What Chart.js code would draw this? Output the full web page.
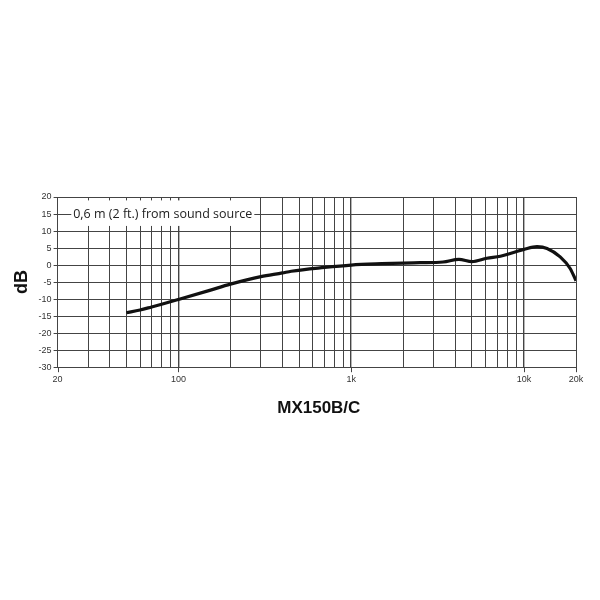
<!DOCTYPE html>
<html>
<head>
<meta charset="utf-8">
<script src="https://cdn.jsdelivr.net/npm/chart.js@4"></script>
<style>
  body { margin: 0; background: #fff; }
</style>
</head>
<body>
<canvas id="grafico" width="600" height="600"></canvas>
<script>
// frequency response
const frecuencias = [50, 60, 70, 80, 100, 150, 200, 300, 400, 450, 700, 1000, 1500, 2000, 2500, 3400, 4200, 5000, 6100, 7300, 8700, 10000, 11900, 13600, 16200, 18500, 20000];
const niveles = [-14, -13.2, -12.3, -11.5, -10.1, -7.5, -5.6, -3.4, -2.3, -1.8, -0.7, 0, 0.4, 0.6, 0.7, 0.9, 1.7, 1.0, 2.0, 2.6, 3.7, 4.6, 5.4, 4.9, 2.4, -1.0, -4.6];
const lineasX = [20, 30, 40, 50, 60, 70, 80, 90, 100, 200, 300, 400, 500, 600, 700, 800, 900,
  1000, 2000, 3000, 4000, 5000, 6000, 7000, 8000, 9000, 10000, 20000];
const etiquetasX = { 20: '20', 100: '100', 1000: '1k', 10000: '10k', 20000: '20k' };
const nota = '0,6 m (2 ft.) from sound source';
const titulo = 'MX150B/C';

const extras = {
  id: 'extras',
  afterDraw(chart) {
    const c = chart.ctx;
    const x = chart.scales.x, y = chart.scales.y;
    const a = chart.chartArea;
    c.save();
    // small ticks under the labelled frequencies
    c.strokeStyle = '#444';
    c.lineWidth = 1;
    Object.keys(etiquetasX).forEach(f => {
      const px = Math.round(x.getPixelForValue(+f)) + 0.5;
      c.beginPath();
      c.moveTo(px, a.bottom);
      c.lineTo(px, a.bottom + 5);
      c.stroke();
    });
    // note box
    const bx = x.getPixelForValue(24), by = y.getPixelForValue(19);
    const bw = x.getPixelForValue(275) - bx, bh = y.getPixelForValue(11.5) - by;
    c.fillStyle = '#fff';
    c.fillRect(bx, by, bw, bh);
    c.fillStyle = '#222';
    c.font = '12.5px "Open Sans", sans-serif';
    c.textAlign = 'center';
    c.textBaseline = 'middle';
    c.fillText(nota, bx + bw / 2, y.getPixelForValue(15));
    // title under the chart
    c.font = 'bold 17px "Liberation Sans", Arial, sans-serif';
    c.fillStyle = '#111';
    c.fillText(titulo, (a.left + a.right) / 2 + 2, 408);
    c.restore();
  }
};

const ctx = document.getElementById('grafico').getContext('2d');
new Chart(ctx, {
  type: 'line',
  data: {
    datasets: [{
      data: frecuencias.map((f, i) => ({ x: f, y: niveles[i] })),
      borderColor: '#111',
      borderWidth: 3.2,
      pointRadius: 0,
      cubicInterpolationMode: 'monotone',
      fill: false
    }]
  },
  options: {
    responsive: false,
    animation: false,
    layout: { padding: { left: 7, right: 24, top: 197, bottom: 208 } },
    plugins: { legend: { display: false }, tooltip: { enabled: false } },
    scales: {
      x: {
        type: 'logarithmic',
        min: 20,
        max: 20000,
        afterBuildTicks(scale) { scale.ticks = lineasX.map(v => ({ value: v })); },
        border: { color: '#444', width: 1 },
        grid: {
          drawTicks: false,
          color: '#444',
          lineWidth: c => (c.tick && [100, 1000, 10000].includes(c.tick.value)) ? 1.4 : 1
        },
        ticks: {
          autoSkip: false,
          maxRotation: 0,
          padding: 7,
          color: '#333',
          font: { size: 9, family: 'Arial, "Liberation Sans", sans-serif' },
          callback: v => etiquetasX[v] || ''
        }
      },
      y: {
        min: -30,
        max: 20,
        border: { color: '#444', width: 1 },
        grid: { color: '#444', lineWidth: 1, tickLength: 4 },
        ticks: {
          stepSize: 5,
          padding: 2,
          color: '#333',
          font: { size: 9, family: 'Arial, "Liberation Sans", sans-serif' }
        },
        title: {
          display: true,
          text: 'dB',
          color: '#111',
          padding: 4,
          font: { size: 18, weight: 'bold', family: 'Arial, "Liberation Sans", sans-serif' }
        }
      }
    }
  },
  plugins: [extras]
});
</script>
</body>
</html>
